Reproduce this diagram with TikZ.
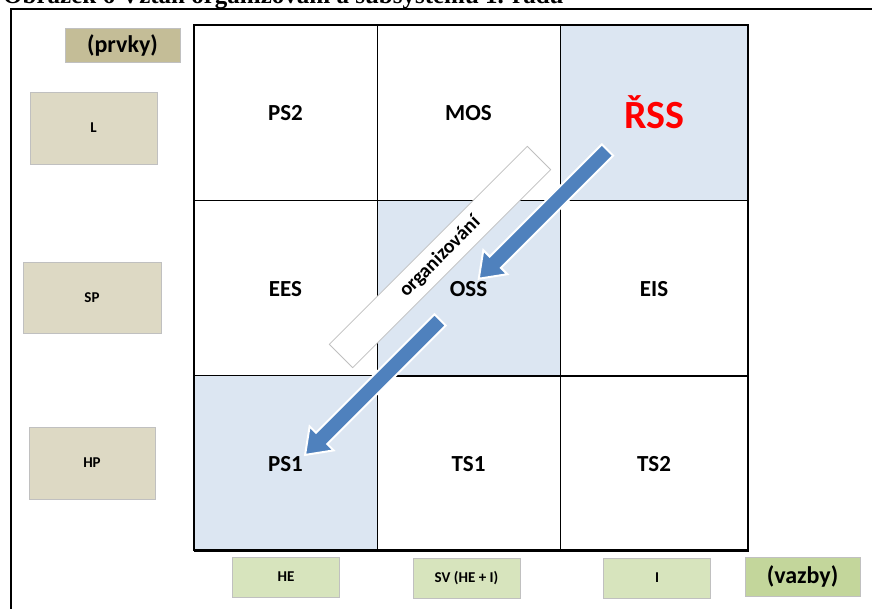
\documentclass[tikz,border=0pt]{standalone}
\usepackage{fontspec}
\setmainfont{Carlito}
\newfontfamily\titlefont{Liberation Serif}
\usetikzlibrary{shapes.arrows}

\definecolor{cellblue}{HTML}{DCE6F2}
\definecolor{arrowblue}{HTML}{4F81BD}
\definecolor{prvekfill}{HTML}{DDD9C4}
\definecolor{prvkyfill}{HTML}{C4BD97}
\definecolor{vazbafill}{HTML}{D7E4BD}
\definecolor{vazbyfill}{HTML}{C3D69B}
\definecolor{boxline}{HTML}{C0C0C0}

\tikzset{
  bunka/.style={draw=black, line width=0.8, minimum width=#1, minimum height=176,
    text depth=0pt, font=\bfseries\fontsize{23}{23}\selectfont},
  prvek/.style={draw=boxline, fill=prvekfill, line width=0.8,
    font=\bfseries\fontsize{15}{15}\selectfont},
  vazba/.style={draw=boxline, fill=vazbafill, line width=0.8,
    minimum width=107, minimum height=40, font=\bfseries\fontsize{15}{15}\selectfont},
  sipka/.style={single arrow, fill=arrowblue, draw=white, line width=2,
    inner xsep=0, inner ysep=7, minimum width=32, single arrow head extend=9,
    single arrow tip angle=72, rotate=225}
}

\begin{document}
\begin{tikzpicture}[x=1pt,y=-1pt]
\useasboundingbox (0,0) rectangle (872,609);
\node[anchor=base west, inner sep=0, font=\titlefont\bfseries\fontsize{25}{25}\selectfont] (nadpis) at (3,4) {Obrázek 6 Vztah organizování a subsystému 1. řádu};
\draw[line width=2] (872,9) -| (11,609);

\node[bunka=183] (ps2) at (285.5,112.5) {PS2};
\node[bunka=183] (mos) at (468.5,112.5) {MOS};
\node[bunka=188, fill=cellblue, text=red, font=\bfseries\fontsize{40}{40}\selectfont] (rss) at (654,112.5) {ŘSS};
\node[bunka=183] (ees) at (285.5,288.5) {EES};
\node[bunka=183, fill=cellblue] (oss) at (468.5,288.5) {OSS};
\node[bunka=188] (eis) at (654,288.5) {EIS};
\node[bunka=183, fill=cellblue] (ps1) at (285.5,463.5) {PS1};
\node[bunka=183] (ts1) at (468.5,463.5) {TS1};
\node[bunka=188] (ts2) at (654,463.5) {TS2};
\draw[line width=2.5] (194,25) rectangle (748,550);

\node[draw=gray!50, fill=white, line width=0.8, minimum width=280, minimum height=33, rotate=45,
  font=\bfseries\fontsize{20}{20}\selectfont] (org) at (440,257) {organizování};
\node[sipka, minimum height=182] (sipka1) at (547,210.5) {};
\node[sipka, minimum height=191] (sipka2) at (376.5,383.5) {};

\node[prvek, fill=prvkyfill, minimum width=115, minimum height=34, font=\bfseries\fontsize{24}{24}\selectfont] (prvky) at (122.5,45) {(prvky)};
\node[prvek, minimum width=127, minimum height=72] (l) at (93.5,128) {L};
\node[prvek, minimum width=138, minimum height=71] (sp) at (92,297.5) {SP};
\node[prvek, minimum width=126, minimum height=72] (hp) at (92,463) {HP};

\node[vazba] (he) at (286,577) {HE};
\node[vazba] (sv) at (466.5,578) {SV (HE + I)};
\node[vazba] (i) at (657,578) {I};
\node[vazba, fill=vazbyfill, minimum width=115, minimum height=39, font=\bfseries\fontsize{24}{24}\selectfont] (vazby) at (802.5,576.5) {(vazby)};
\end{tikzpicture}
\end{document}
